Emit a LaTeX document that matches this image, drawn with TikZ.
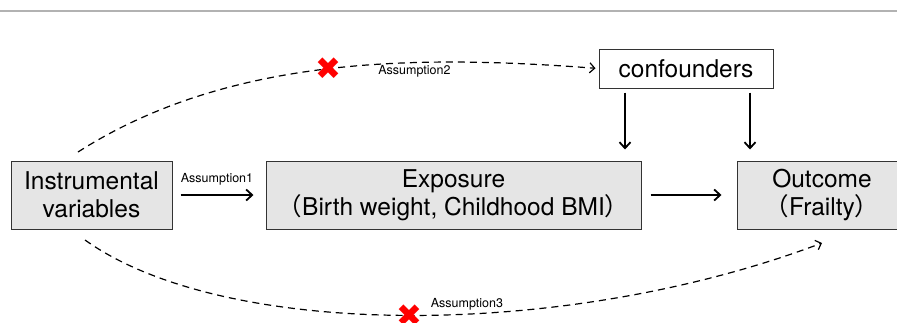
\documentclass[tikz,border=0pt]{standalone}
\usepackage{fontspec}
\setmainfont{TeX Gyre Heros}
\newfontfamily\cjk{Noto Sans CJK SC}
\newfontfamily\symfont{DejaVu Sans}
\usepackage{tikz}
\usetikzlibrary{arrows.meta, positioning}

\begin{document}
\begin{tikzpicture}[
        x=1pt, y=-1pt,
        box/.style={
            rectangle,
            draw=black!80,
            fill=black!10,
            line width=1pt,
            align=center,
            inner sep=0pt,
            font=\fontsize{24.5}{28}\selectfont,
            minimum height=68pt
        },
        confbox/.style={
            rectangle,
            draw=black!80,
            fill=white,
            line width=1pt,
            inner sep=0pt,
            font=\fontsize{24.5}{28}\selectfont,
            minimum width=174pt,
            minimum height=39pt
        },
        arrow/.style={
            -{Straight Barb[length=6pt, width=11pt]},
            line width=1.8pt,
            draw=black
        },
        dasharrow/.style={
            -{Straight Barb[length=5pt, width=10pt]},
            line width=1.2pt,
            dash pattern=on 7pt off 5pt,
            draw=black
        },
        asmp/.style={
            inner sep=0pt,
            font=\fontsize{12.5}{14}\selectfont
        },
        redx/.style={
            inner sep=0pt,
            text=red,
            font=\symfont\fontsize{31}{31}\selectfont
        }
    ]
        \useasboundingbox (0,0) rectangle (897,322);
        \draw [line width=1.5pt, black!30] (0,11) -- (897,11);

        \node (iv) [box, minimum width=161pt] at (91.5,195) {Instrumental\\variables};
        \node (exp) [box, minimum width=375pt] at (453.5,195) {Exposure\\{\cjk （}Birth weight, Childhood BMI{\cjk ）}};
        \node (out) [box, minimum width=170pt] at (822,195) {Outcome\\{\cjk （}Frailty{\cjk ）}};
        \node (conf) [confbox] at (686,68.5) {confounders};

        \coordinate (a2start) at (78,152);
        \coordinate (a3start) at (85,240);
        \coordinate (a3end) at (822,243);

        \draw [arrow, shorten <=8pt, shorten >=12pt] (iv) -- (exp) node [asmp, midway, above=9pt, xshift=-2pt] {Assumption1};
        \draw [arrow, shorten <=9pt, shorten >=15pt] (exp) -- (out);
        \draw [arrow, shorten <=4pt, shorten >=11pt] ([xshift=-61pt]conf.south) -- ([xshift=-61pt]conf.south |- exp.north);
        \draw [arrow, shorten <=4pt, shorten >=11pt] ([xshift=64pt]conf.south) -- ([xshift=64pt]conf.south |- out.north);

        \draw [dasharrow, shorten >=3pt] (a2start) .. controls (230,55) and (420,55) .. (conf.west)
            node [redx, pos=0.5] {✖}
            node [asmp, pos=0.66, below=2pt] {Assumption2};
        \draw [dasharrow] (a3start) .. controls (225,340) and (565,340) .. (a3end)
            node [redx, pos=0.5] {✖}
            node [asmp, pos=0.57, above=3pt] {Assumption3};
    \end{tikzpicture}
\end{document}
